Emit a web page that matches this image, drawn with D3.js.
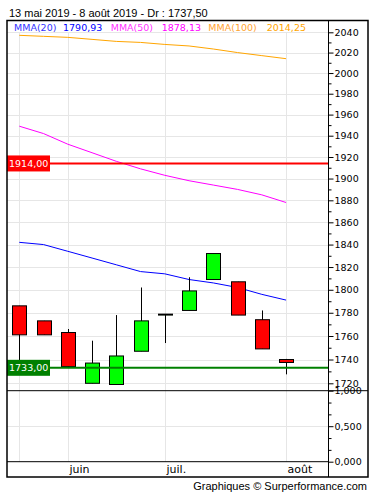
<!DOCTYPE html>
<html><head><meta charset="utf-8">
<script src="https://cdn.jsdelivr.net/npm/d3@7"></script>
<style>body{margin:0;background:#fff}svg{display:block}</style>
</head><body>
<svg id="c" width="375" height="495"></svg>
<script>
// ---- data ----
const weeks = ["2019-05-20","2019-05-27","2019-06-03","2019-06-10","2019-06-17","2019-06-24","2019-07-01","2019-07-08","2019-07-15","2019-07-22","2019-07-29","2019-08-05"];
const open  = [1786, 1773, 1763, 1720, 1719, 1747, 1778, 1782, 1809, 1807, 1774, 1740];
const high  = [1786, 1773, 1766, 1756, 1778, 1802, 1779, 1811, 1832, 1807, 1782, 1740.5];
const low   = [1735, 1761, 1734, 1720, 1719, 1747, 1754, 1782, 1809, 1778, 1749, 1727.5];
const close = [1761, 1761, 1734, 1737, 1743, 1773, 1778.8, 1799, 1832, 1778, 1749, 1737.5];
const mma20  = [1842, 1840, 1834, 1828, 1822, 1816, 1814, 1809, 1806, 1802, 1796, 1791];
const mma50  = [1949, 1942, 1932, 1924, 1916, 1909, 1903, 1898, 1894, 1890, 1885, 1878];
const mma100 = [2037, 2036, 2035, 2033, 2031, 2030, 2028, 2026.5, 2023.5, 2020, 2017, 2014];
const volume = [0,0,0,0,0,0,0,0,0,0,0,0];
const monthTickIdx = [0, 2, 6, 11];
const monthLabels = ["", "juin", "juil.", "août"];
const priceTicks = d3.range(1720, 2041, 20);
const priceMinor = d3.range(1730, 2041, 20);
const volTicks = [0, 0.5, 1];
const volMinor = [1/6, 1/3, 2/3, 5/6];
const levels = [{v:1914, label:"1914,00", color:"#ff0000"}, {v:1733, label:"1733,00", color:"#008000"}];
const legend = [
  {t:"MMA(20)", c:"#3333ff"}, {t:"1790,93", c:"#0000ff"},
  {t:"MMA(50)", c:"#ff33ff"}, {t:"1878,13", c:"#ff00ff"},
  {t:"MMA(100)", c:"#ffa333"}, {t:"2014,25", c:"#ffa500"}];
const title = "13 mai 2019 - 8 août 2019 - Dr : 1737,50";
const footer = "Graphiques © Surperformance.com";

// ---- layout ----
const L = 7, R = 368, T = 20.5, B = 477, AX = 328;
const mainTop = T, mainBot = 390.7, volTop = 390.7, volBot = 461.7;
const svg = d3.select("#c");
const font = "DejaVu Sans, Verdana, sans-serif";

const x = d3.scaleLinear().domain([-0.507, 12.73]).range([L, AX]);
const y = d3.scaleLog().domain([1720, 2040]).range([383.3, 32.3]);
const yv = d3.scaleLinear().domain([0, 1]).range([volBot, volTop]);

svg.append("text").attr("x", 9).attr("y", 16.5).attr("font-family", "Liberation Sans, Arial, sans-serif")
  .attr("font-size", 11).attr("fill", "#000").text(title);

// clip
svg.append("clipPath").attr("id", "mc").append("rect").attr("x", L).attr("y", mainTop).attr("width", AX - L).attr("height", mainBot - mainTop);

// grids
const g = svg.append("g");
g.selectAll(".hg").data(priceTicks).join("line").attr("x1", L).attr("x2", AX)
  .attr("y1", d => Math.round(y(d)) + 0.5).attr("y2", d => Math.round(y(d)) + 0.5).attr("stroke", "#e6e6e6");
g.append("line").attr("x1", L).attr("x2", AX).attr("y1", Math.round(yv(0.5)) + 0.5).attr("y2", Math.round(yv(0.5)) + 0.5).attr("stroke", "#e6e6e6");
g.selectAll(".vg").data(monthTickIdx).join("line")
  .attr("x1", d => Math.round(x(d)) + 0.5).attr("x2", d => Math.round(x(d)) + 0.5)
  .attr("y1", 32).attr("y2", volBot).attr("stroke", "#e6e6e6");

// MAs
const mg = svg.append("g").attr("clip-path", "url(#mc)");
[[mma100, "#ffa500"], [mma50, "#ff00ff"], [mma20, "#0000ff"]].forEach(([arr, col]) => {
  mg.append("path").datum(arr).attr("fill", "none").attr("stroke", col).attr("stroke-width", 1)
    .attr("d", d3.line().x((d, i) => x(i)).y(d => y(d)));
});

// candles
const cg = svg.append("g").attr("clip-path", "url(#mc)");
weeks.forEach((w, i) => {
  const cx = Math.round(x(i)) + 0.5;
  cg.append("line").attr("x1", cx).attr("x2", cx).attr("y1", y(high[i])).attr("y2", y(low[i])).attr("stroke", "#000");
  const top = y(Math.max(open[i], close[i])), bot = y(Math.min(open[i], close[i]));
  cg.append("rect").attr("x", cx - 7).attr("width", 14).attr("y", top).attr("height", Math.max(bot - top, 0.8))
    .attr("fill", close[i] >= open[i] ? "#00ff00" : "#ff0000").attr("stroke", "#000").attr("stroke-width", 1);
});

// levels
levels.forEach(l => {
  const yy = y(l.v);
  svg.append("line").attr("x1", L).attr("x2", AX).attr("y1", yy).attr("y2", yy).attr("stroke", l.color).attr("stroke-width", 2);
  svg.append("rect").attr("x", L).attr("y", yy - 8).attr("width", 43).attr("height", 16).attr("fill", l.color);
  svg.append("text").attr("x", 9).attr("y", yy + 3.5).attr("font-family", font).attr("font-size", 9.5)
    .attr("fill", "#fff").text(l.label);
});

// legend
let lx = [14, 63, 110.7, 161.7, 208.3, 266.7];
legend.forEach((d, i) => {
  svg.append("text").attr("x", lx[i]).attr("y", 30.5).attr("font-family", font).attr("font-size", 9.5).attr("fill", d.c).text(d.t);
});

// panel separators & axis
svg.append("line").attr("x1", L).attr("x2", R).attr("y1", volTop).attr("y2", volTop).attr("stroke", "#000");
svg.append("line").attr("x1", L).attr("x2", AX).attr("y1", volBot).attr("y2", volBot).attr("stroke", "#000");
svg.append("line").attr("x1", AX + 0.5).attr("x2", AX + 0.5).attr("y1", T).attr("y2", B).attr("stroke", "#000");

// price axis
const ag = svg.append("g").attr("transform", `translate(${AX + 0.5},0)`);
ag.call(d3.axisRight(y).tickValues(priceTicks).tickSize(5).tickFormat(d3.format("d")))
  .call(s => s.select(".domain").remove())
  .call(s => s.selectAll("text").attr("font-family", font).attr("font-size", 9.5).attr("fill", "#000").attr("x", 6));
ag.append("g").call(d3.axisRight(y).tickValues(priceMinor).tickSize(3).tickFormat(""))
  .call(s => s.select(".domain").remove());

// volume axis
const vg = svg.append("g").attr("transform", `translate(${AX + 0.5},0)`);
vg.call(d3.axisRight(yv).tickValues(volTicks).tickSize(5).tickFormat(d => d3.format(".3f")(d).replace(".", ",")))
  .call(s => s.select(".domain").remove())
  .call(s => s.selectAll("text").attr("font-family", font).attr("font-size", 9.5).attr("fill", "#000").attr("x", 6));
vg.append("g").call(d3.axisRight(yv).tickValues(volMinor).tickSize(3).tickFormat(""))
  .call(s => s.select(".domain").remove());

// volume bars (zero)
svg.append("g").selectAll("rect").data(volume).join("rect")
  .attr("x", (d, i) => x(i) - 7).attr("width", 14).attr("y", d => yv(d)).attr("height", d => volBot - yv(d)).attr("fill", "#888");

// month labels
svg.selectAll(".ml").data(monthTickIdx).join("text")
  .attr("x", d => Math.round(x(d)) + 1.5).attr("y", 472.7).attr("font-family", font).attr("font-size", 11)
  .attr("fill", "#000").text((d, i) => monthLabels[i]);

// frame
svg.append("rect").attr("x", L).attr("y", T).attr("width", R - L).attr("height", B - T)
  .attr("fill", "none").attr("stroke", "#000").attr("stroke-width", 1.5);

svg.append("text").attr("x", 367).attr("y", 490).attr("text-anchor", "end")
  .attr("font-family", "Liberation Sans, Arial, sans-serif").attr("font-size", 11).attr("fill", "#000").text(footer);
</script>
</body></html>
